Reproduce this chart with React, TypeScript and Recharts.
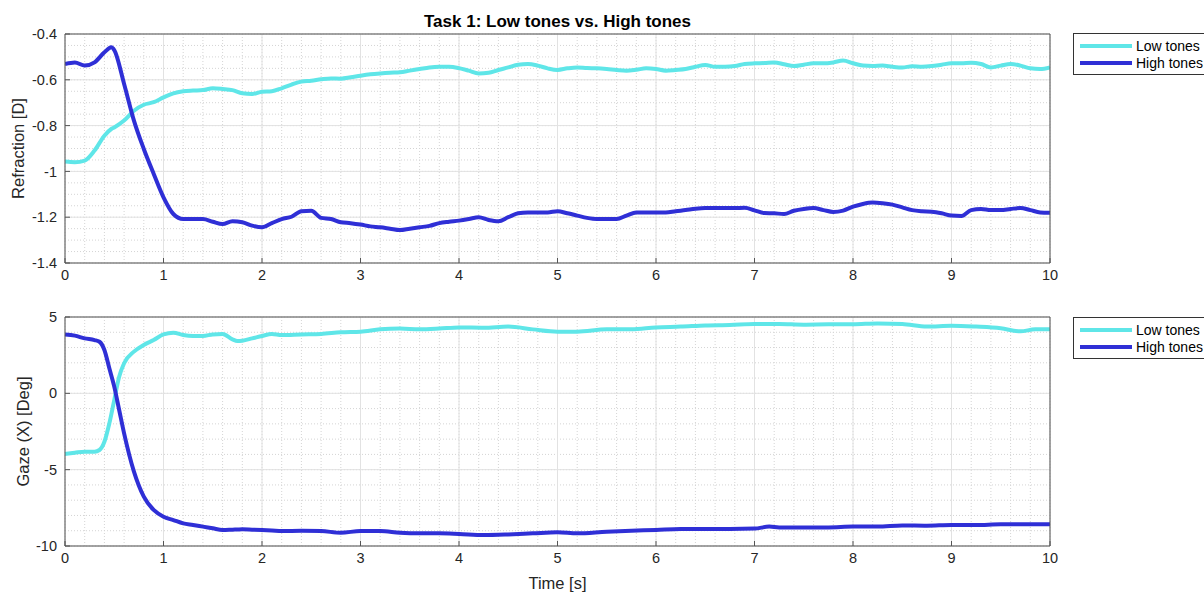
import React from 'react'
import {
  LineChart,
  Line,
  XAxis,
  YAxis,
  CartesianGrid,
  Legend,
} from 'recharts'

const FONT = '"Liberation Sans", Arial, Helvetica, sans-serif'
const LOW_COLOR = '#5fe6e8'
const HIGH_COLOR = '#2f2fd6'
const AXIS_COLOR = '#555555'
const TEXT_COLOR = '#262626'

const seriesNames = ['Low tones', 'High tones']

// Refraction panel (top)
const refTime = [
  0, 0.1, 0.2, 0.3, 0.4, 0.47, 0.5, 0.6, 0.7, 0.8, 0.9,
  1.0, 1.1, 1.2, 1.3, 1.4, 1.5, 1.6, 1.7, 1.8, 1.9,
  2.0, 2.1, 2.2, 2.3, 2.4, 2.5, 2.6, 2.7, 2.8, 2.9,
  3.0, 3.1, 3.2, 3.3, 3.4, 3.5, 3.6, 3.7, 3.8, 3.9,
  4.0, 4.1, 4.2, 4.3, 4.4, 4.5, 4.6, 4.7, 4.8, 4.9,
  5.0, 5.1, 5.2, 5.3, 5.4, 5.5, 5.6, 5.7, 5.8, 5.9,
  6.0, 6.1, 6.2, 6.3, 6.4, 6.5, 6.6, 6.7, 6.8, 6.9,
  7.0, 7.1, 7.2, 7.3, 7.4, 7.5, 7.6, 7.7, 7.8, 7.9,
  8.0, 8.1, 8.2, 8.3, 8.4, 8.5, 8.6, 8.7, 8.8, 8.9,
  9.0, 9.1, 9.2, 9.3, 9.4, 9.5, 9.6, 9.7, 9.8, 9.9,
  10,
]
const refLow = [
  -0.957, -0.96, -0.953, -0.909, -0.844, -0.815, -0.808, -0.778, -0.735, -0.709, -0.698,
  -0.677, -0.659, -0.65, -0.647, -0.645, -0.637, -0.64, -0.645, -0.659, -0.662,
  -0.652, -0.65, -0.637, -0.621, -0.608, -0.604, -0.598, -0.594, -0.595, -0.589,
  -0.582, -0.576, -0.572, -0.569, -0.567, -0.56, -0.553, -0.546, -0.543, -0.543,
  -0.549, -0.56, -0.572, -0.569, -0.557, -0.546, -0.534, -0.531, -0.538, -0.55,
  -0.557, -0.55, -0.546, -0.549, -0.55, -0.553, -0.557, -0.56, -0.556, -0.55,
  -0.553, -0.56, -0.557, -0.553, -0.543, -0.535, -0.543, -0.543, -0.54, -0.531,
  -0.528, -0.527, -0.524, -0.532, -0.54, -0.534, -0.528, -0.528, -0.524, -0.516,
  -0.528, -0.538, -0.54, -0.538, -0.543, -0.546, -0.541, -0.543, -0.54, -0.534,
  -0.528, -0.528, -0.525, -0.531, -0.546, -0.538, -0.531, -0.538, -0.55, -0.553,
  -0.546,
]
const refHigh = [
  -0.531, -0.524, -0.538, -0.524, -0.48, -0.458, -0.47, -0.618, -0.778, -0.902, -1.01,
  -1.113, -1.186, -1.208, -1.208, -1.208, -1.22, -1.23, -1.218, -1.222, -1.237,
  -1.244, -1.226, -1.208, -1.198, -1.174, -1.172, -1.203, -1.208, -1.222, -1.226,
  -1.232, -1.24, -1.244, -1.25, -1.256, -1.25, -1.244, -1.238, -1.226, -1.22,
  -1.215, -1.208, -1.2, -1.212, -1.218, -1.2, -1.183, -1.179, -1.179, -1.179,
  -1.174, -1.183, -1.193, -1.203, -1.208, -1.208, -1.208, -1.193, -1.179, -1.179,
  -1.18, -1.18, -1.174, -1.169, -1.163, -1.16, -1.16, -1.16, -1.16, -1.159,
  -1.17, -1.182, -1.183, -1.186, -1.172, -1.164, -1.16, -1.169, -1.177, -1.171,
  -1.154, -1.142, -1.136, -1.139, -1.145, -1.157, -1.169, -1.174, -1.176, -1.183,
  -1.193, -1.195, -1.169, -1.164, -1.169, -1.169, -1.164, -1.16, -1.169, -1.179,
  -1.181,
]

// Gaze panel (bottom)
const gazeTime = [
  0, 0.1, 0.2, 0.3, 0.35, 0.4, 0.45, 0.5, 0.55, 0.6,
  0.7, 0.8, 0.9, 1.0, 1.1, 1.2, 1.3, 1.4, 1.5, 1.6,
  1.7, 1.75, 1.8, 1.9, 2.0, 2.1, 2.2, 2.4, 2.6, 2.8,
  3.0, 3.2, 3.4, 3.6, 3.8, 4.0, 4.25, 4.5, 4.75, 5.0,
  5.2, 5.5, 5.75, 6.0, 6.25, 6.5, 6.75, 7.0, 7.15, 7.25,
  7.5, 7.75, 8.0, 8.25, 8.5, 8.75, 9.0, 9.25, 9.5, 9.7,
  9.85, 10,
]
const gazeLow = [
  -3.97, -3.89, -3.82, -3.82, -3.71, -3.17, -1.97, -0.44, 1.09, 1.97,
  2.73, 3.17, 3.49, 3.86, 3.97, 3.82, 3.76, 3.76, 3.86, 3.89,
  3.54, 3.43, 3.45, 3.6, 3.76, 3.89, 3.82, 3.86, 3.89, 4.0,
  4.04, 4.19, 4.24, 4.19, 4.24, 4.32, 4.3, 4.37, 4.19, 4.04,
  4.04, 4.19, 4.19, 4.32, 4.37, 4.45, 4.48, 4.54, 4.54, 4.54,
  4.5, 4.52, 4.52, 4.58, 4.54, 4.37, 4.43, 4.37, 4.26, 4.06,
  4.19, 4.19,
]
const gazeHigh = [
  3.86, 3.78, 3.6, 3.49, 3.38, 2.84, 1.64, 0.44, -1.09, -2.62,
  -5.13, -6.77, -7.64, -8.08, -8.3, -8.52, -8.62, -8.73, -8.84, -8.95,
  -8.93, -8.92, -8.91, -8.93, -8.95, -8.98, -9.02, -9.0, -9.02, -9.13,
  -9.02, -9.02, -9.13, -9.17, -9.17, -9.21, -9.28, -9.24, -9.17, -9.1,
  -9.17, -9.06, -9.0, -8.95, -8.89, -8.89, -8.89, -8.86, -8.73, -8.78,
  -8.78, -8.78, -8.73, -8.73, -8.65, -8.67, -8.62, -8.62, -8.58, -8.58,
  -8.58, -8.58,
]

const xTicks = [0, 1, 2, 3, 4, 5, 6, 7, 8, 9, 10]
const refTicks = [-1.4, -1.2, -1, -0.8, -0.6, -0.4]
const gazeTicks = [-10, -5, 0, 5]

// minor grid positions
const minorX = Array.from({ length: 51 }, (_, i) => +(i * 0.2).toFixed(1))
const minorRefY = Array.from({ length: 21 }, (_, i) => +(-1.4 + i * 0.05).toFixed(2))
const minorGazeY = Array.from({ length: 16 }, (_, i) => -10 + i)

const refRows = refTime.map((t, i) => ({ t, low: refLow[i], high: refHigh[i] }))
const gazeRows = gazeTime.map((t, i) => ({ t, low: gazeLow[i], high: gazeHigh[i] }))

const tickStyle = { fill: TEXT_COLOR, fontSize: 14.5, fontFamily: FONT }
const labelStyle = { fill: TEXT_COLOR, fontSize: 16.5, fontFamily: FONT, textAnchor: 'middle' as const }

function LegendBox(props: any) {
  const items = [...(props.payload || [])].sort(
    (a: any, b: any) => seriesNames.indexOf(a.value) - seriesNames.indexOf(b.value)
  )
  return (
    <div
      style={{
        border: '1px solid #333',
        background: '#fff',
        width: 140,
        padding: '3px 0 3px 6px',
        fontFamily: FONT,
        fontSize: 14,
        color: '#000',
        boxSizing: 'content-box',
      }}
    >
      {items.map((entry: any) => (
        <div key={entry.value} style={{ display: 'flex', alignItems: 'center', height: 17 }}>
          <span style={{ display: 'inline-block', width: 52, height: 4, background: entry.color, marginRight: 4 }} />
          <span style={{ whiteSpace: 'nowrap' }}>{entry.value}</span>
        </div>
      ))}
    </div>
  )
}

function Panel({
  rows,
  height,
  margin,
  yDomain,
  yTicks,
  yMinor,
  yLabel,
  yLabelOffset,
  title,
  xLabel,
  xAxisHeight,
  legendTop,
}: any) {
  return (
    <LineChart width={1204} height={height} data={rows} margin={margin}>
      <CartesianGrid
        verticalValues={minorX}
        horizontalValues={yMinor}
        stroke="#d4d4d4"
        strokeDasharray="1 2"
      />
      <CartesianGrid stroke="#e2e2e2" />
      <XAxis
        dataKey="t"
        type="number"
        domain={[0, 10]}
        ticks={xTicks}
        interval={0}
        allowDataOverflow
        height={xAxisHeight}
        tickSize={-5}
        tickMargin={12}
        stroke={AXIS_COLOR}
        tick={tickStyle}
        label={
          xLabel
            ? { value: xLabel, position: 'bottom', offset: 1, style: labelStyle }
            : undefined
        }
      />
      {/* box top edge with inward ticks, carries the title */}
      <XAxis
        xAxisId="top"
        orientation="top"
        type="number"
        domain={[0, 10]}
        ticks={xTicks}
        interval={0}
        allowDataOverflow
        height={1}
        tickSize={-5}
        stroke={AXIS_COLOR}
        tick={false}
        label={
          title
            ? {
                value: title,
                position: 'top',
                offset: 6,
                style: { fill: '#000', fontSize: 17, fontWeight: 'bold', fontFamily: FONT, textAnchor: 'middle' },
              }
            : undefined
        }
      />
      <YAxis
        type="number"
        domain={yDomain}
        ticks={yTicks}
        interval={0}
        allowDataOverflow
        width={60}
        tickSize={-5}
        tickMargin={13}
        stroke={AXIS_COLOR}
        tick={tickStyle}
        label={{ value: yLabel, angle: -90, position: 'insideLeft', offset: yLabelOffset, style: labelStyle }}
      />
      <YAxis
        yAxisId="right"
        orientation="right"
        type="number"
        domain={yDomain}
        ticks={yTicks}
        interval={0}
        allowDataOverflow
        width={1}
        tickSize={-5}
        stroke={AXIS_COLOR}
        tick={false}
      />
      <Legend
        layout="vertical"
        align="center"
        verticalAlign="middle"
        content={LegendBox}
        wrapperStyle={{ left: 1073, top: legendTop, width: 'auto' }}
      />
      <Line
        name="Low tones"
        type="monotone"
        dataKey="low"
        stroke={LOW_COLOR}
        strokeWidth={4}
        dot={false}
        activeDot={false}
        isAnimationActive={false}
      />
      <Line
        name="High tones"
        type="monotone"
        dataKey="high"
        stroke={HIGH_COLOR}
        strokeWidth={4}
        dot={false}
        activeDot={false}
        isAnimationActive={false}
      />
    </LineChart>
  )
}

export default function App() {
  return (
    <div
      style={{
        position: 'absolute',
        left: 0,
        top: 0,
        width: 1204,
        height: 592,
        overflow: 'hidden',
        background: '#fff',
      }}
    >
      <div style={{ position: 'absolute', left: 0, top: 0 }}>
        <Panel
          rows={refRows}
          height={290}
          margin={{ top: 33, right: 153, bottom: 0, left: 5 }}
          yDomain={[-1.4, -0.4]}
          yTicks={refTicks}
          yMinor={minorRefY}
          yLabel="Refraction [D]"
          yLabelOffset={13}
          title="Task 1: Low tones vs. High tones"
          xAxisHeight={27}
          legendTop={33}
        />
      </div>
      <div style={{ position: 'absolute', left: 0, top: 290 }}>
        <Panel
          rows={gazeRows}
          height={302}
          margin={{ top: 26, right: 153, bottom: 16, left: 5 }}
          yDomain={[-10, 5]}
          yTicks={gazeTicks}
          yMinor={minorGazeY}
          yLabel="Gaze (X) [Deg]"
          yLabelOffset={18}
          xLabel="Time [s]"
          xAxisHeight={30}
          legendTop={27}
        />
      </div>
    </div>
  )
}
